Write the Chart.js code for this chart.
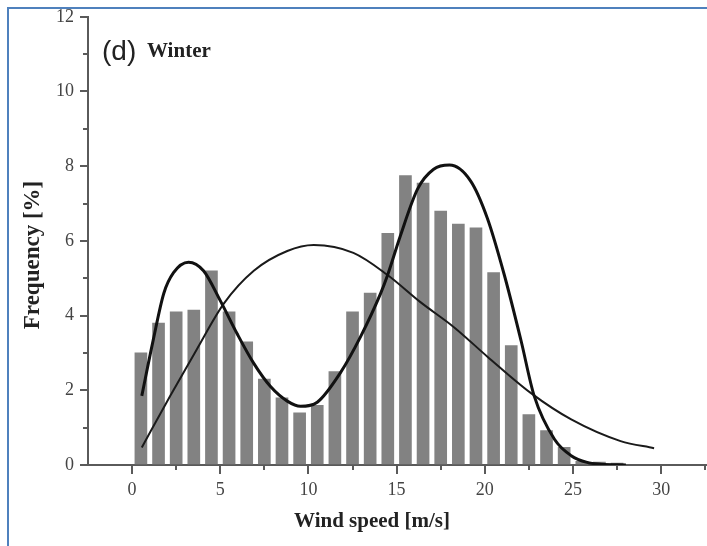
<!DOCTYPE html>
<html>
<head>
<meta charset="utf-8">
<script src="https://cdn.jsdelivr.net/npm/chart.js@4.4.0/dist/chart.umd.min.js"></script>
<style>
  html, body { margin: 0; padding: 0; background: #fff; }
  #wrap { position: relative; width: 707px; height: 546px; }
  #frame { position: absolute; left: 7px; top: 7px; right: 0; bottom: 0;
           border-top: 2px solid #4f81bd; border-left: 2px solid #4f81bd; pointer-events: none; }
</style>
</head>
<body>
<div id="wrap">
  <canvas id="windChart" width="707" height="546"></canvas>
  <div id="frame"></div>
</div>
<script>
// histogram bins (m/s) and frequency (%)
const binCenters = [0.5, 1.5, 2.5, 3.5, 4.5, 5.5, 6.5, 7.5, 8.5, 9.5, 10.5, 11.5, 12.5, 13.5,
  14.5, 15.5, 16.5, 17.5, 18.5, 19.5, 20.5, 21.5, 22.5, 23.5, 24.5, 25.5, 26.5, 27.5];
const frequency = [3.0, 3.8, 4.1, 4.15, 5.2, 4.1, 3.3, 2.3, 1.8, 1.4, 1.6, 2.5, 4.1, 4.6,
  6.2, 7.75, 7.55, 6.8, 6.45, 6.35, 5.15, 3.2, 1.35, 0.92, 0.47, 0.1, 0.08, 0.05];

// bimodal fit (thick line)
const bimodalX = [0.55, 1.2, 1.8, 2.35, 3.2, 4.05, 5.0, 5.95, 6.9, 7.85, 8.8, 9.55, 10.5, 11.8,
  12.95, 14.1, 14.5, 15.2, 16.2, 17.1, 18.0, 19.2, 20.15, 21.1, 22.05, 22.8, 23.95, 24.9, 25.8, 26.6, 28.0];
const bimodalY = [1.85, 3.35, 4.6, 5.15, 5.43, 5.2, 4.4, 3.52, 2.72, 2.1, 1.71, 1.57, 1.68, 2.46,
  3.43, 4.6, 5.1, 6.12, 7.4, 7.92, 8.03, 7.6, 6.6, 5.1, 3.34, 1.85, 0.69, 0.25, 0.07, 0.02, 0.0];

// unimodal fit (thin line)
const unimodalX = [0.55, 2.15, 3.65, 5.2, 6.9, 8.8, 10.3, 12.55, 14.45, 16.35, 18.25, 20.15,
  22.6, 24.9, 27.7, 29.6];
const unimodalY = [0.47, 1.84, 3.08, 4.32, 5.2, 5.73, 5.89, 5.68, 5.1, 4.36, 3.69, 2.9,
  1.93, 1.22, 0.64, 0.45];

const xTickValues = [0, 5, 10, 15, 20, 25, 30];
const xMinorTicks = [2.5, 7.5, 12.5, 17.5, 22.5, 27.5, 32.5];
const yTickValues = [0, 2, 4, 6, 8, 10, 12];
const yMinorTicks = [1, 3, 5, 7, 9, 11];

const axisColor = '#5a5a5a';
const tickFont = { family: '"Liberation Serif", "DejaVu Serif", serif', size: 18 };

const toPoints = (xs, ys) => xs.map((x, i) => ({ x: x, y: ys[i] }));

// minor ticks, panel label and axis titles
const extras = {
  id: 'extras',
  afterDraw(chart) {
    const { ctx, chartArea, scales } = chart;
    const xs = scales.x, ys = scales.y;
    ctx.save();
    ctx.strokeStyle = axisColor;
    ctx.lineWidth = 2;
    xMinorTicks.forEach(v => {
      const px = Math.round(xs.getPixelForValue(v));
      ctx.beginPath();
      ctx.moveTo(px, chartArea.bottom);
      ctx.lineTo(px, chartArea.bottom + 5);
      ctx.stroke();
    });
    yMinorTicks.forEach(v => {
      const py = Math.round(ys.getPixelForValue(v));
      ctx.beginPath();
      ctx.moveTo(chartArea.left, py);
      ctx.lineTo(chartArea.left - 5, py);
      ctx.stroke();
    });

    ctx.fillStyle = '#222';
    ctx.textBaseline = 'alphabetic';
    ctx.textAlign = 'left';
    ctx.font = '28px "Liberation Sans", Arial, sans-serif';
    ctx.fillText('(d)', 102, 60);
    ctx.font = 'bold 21px "Liberation Serif", serif';
    ctx.fillText('Winter', 147, 57);

    ctx.textAlign = 'center';
    ctx.textBaseline = 'middle';
    ctx.font = 'bold 21px "Liberation Serif", serif';
    ctx.fillText('Wind speed [m/s]', 372, 522);

    ctx.translate(33, 255);
    ctx.rotate(-Math.PI / 2);
    ctx.font = 'bold 23px "Liberation Serif", serif';
    ctx.fillText('Frequency [%]', 0, 0);
    ctx.restore();
  }
};

new Chart(document.getElementById('windChart'), {
  type: 'bar',
  data: {
    datasets: [
      {
        type: 'line',
        data: toPoints(bimodalX, bimodalY),
        borderColor: '#111',
        borderWidth: 3,
        pointRadius: 0,
        cubicInterpolationMode: 'monotone',
        order: 1
      },
      {
        type: 'line',
        data: toPoints(unimodalX, unimodalY),
        borderColor: '#1a1a1a',
        borderWidth: 2,
        pointRadius: 0,
        cubicInterpolationMode: 'monotone',
        order: 1
      },
      {
        type: 'bar',
        data: toPoints(binCenters, frequency),
        backgroundColor: '#828282',
        barThickness: 12,
        order: 2
      }
    ]
  },
  options: {
    responsive: false,
    animation: false,
    devicePixelRatio: 1,
    layout: { padding: { top: 15, left: 0, right: 0, bottom: 0 } },
    plugins: { legend: { display: false }, tooltip: { enabled: false } },
    scales: {
      x: {
        type: 'linear',
        offset: false,
        min: -2.5,
        max: 32.6,
        afterFit(scale) { scale.height = 81; },
        afterBuildTicks(scale) { scale.ticks = xTickValues.map(v => ({ value: v })); },
        border: { display: true, color: axisColor, width: 2 },
        grid: { offset: false, drawOnChartArea: false, drawTicks: true, tickLength: 9, color: axisColor, lineWidth: 2 },
        ticks: { font: tickFont, color: '#444', padding: 5, maxRotation: 0 }
      },
      y: {
        min: 0,
        max: 12,
        afterFit(scale) { scale.width = 88; },
        afterBuildTicks(scale) { scale.ticks = yTickValues.map(v => ({ value: v })); },
        border: { display: true, color: axisColor, width: 2 },
        grid: { drawOnChartArea: false, drawTicks: true, tickLength: 8, color: axisColor, lineWidth: 2 },
        ticks: { font: tickFont, color: '#444', padding: 6 }
      }
    }
  },
  plugins: [extras]
});
</script>
</body>
</html>
